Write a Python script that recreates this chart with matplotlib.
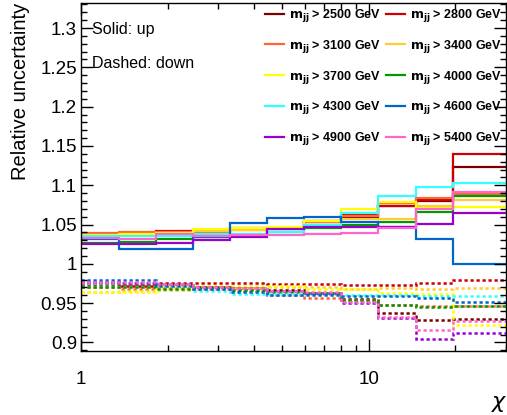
import matplotlib.pyplot as plt
import matplotlib.ticker as ticker
import numpy as np

plt.rcParams['font.family'] = ['Liberation Sans', 'DejaVu Sans']

# chi bin edges
edges = [1, 1.35, 1.82, 2.44, 3.29, 4.43, 5.94, 8.0, 10.8, 14.6, 19.6, 30]

mass_cuts = [2500, 2800, 3100, 3400, 3700, 4000, 4300, 4600, 4900, 5400]
colors = ['#7a0000', '#cc0000', '#ff6633', '#ffcc33', '#ffff00',
          '#009900', '#33ffff', '#0066cc', '#9900cc', '#ff66cc']

up_2500 = [1.037, 1.038, 1.041, 1.042, 1.044, 1.045, 1.053, 1.060, 1.074, 1.080, 1.123]
up_2800 = [1.038, 1.039, 1.042, 1.043, 1.045, 1.046, 1.054, 1.062, 1.073, 1.081, 1.140]
up_3100 = [1.039, 1.040, 1.040, 1.041, 1.043, 1.045, 1.053, 1.061, 1.077, 1.084, 1.089]
up_3400 = [1.034, 1.035, 1.037, 1.042, 1.043, 1.045, 1.054, 1.057, 1.057, 1.073, 1.081]
up_3700 = [1.037, 1.038, 1.039, 1.044, 1.045, 1.047, 1.055, 1.070, 1.079, 1.071, 1.072]
up_4000 = [1.027, 1.028, 1.032, 1.034, 1.037, 1.041, 1.045, 1.049, 1.053, 1.066, 1.086]
up_4300 = [1.035, 1.036, 1.036, 1.038, 1.038, 1.041, 1.049, 1.065, 1.086, 1.098, 1.103]
up_4600 = [1.031, 1.019, 1.019, 1.034, 1.052, 1.058, 1.059, 1.053, 1.047, 1.032, 1.000]
up_4900 = [1.025, 1.025, 1.026, 1.030, 1.034, 1.044, 1.047, 1.047, 1.047, 1.051, 1.065]
up_5400 = [1.033, 1.032, 1.038, 1.036, 1.037, 1.037, 1.038, 1.039, 1.045, 1.070, 1.092]

down_2500 = [0.974, 0.974, 0.973, 0.971, 0.969, 0.967, 0.963, 0.955, 0.937, 0.929, 0.930]
down_2800 = [0.975, 0.972, 0.975, 0.976, 0.975, 0.974, 0.974, 0.973, 0.973, 0.975, 0.980]
down_3100 = [0.970, 0.968, 0.969, 0.968, 0.965, 0.960, 0.957, 0.954, 0.948, 0.946, 0.946]
down_3400 = [0.964, 0.965, 0.967, 0.968, 0.969, 0.970, 0.970, 0.968, 0.969, 0.968, 0.969]
down_3700 = [0.964, 0.964, 0.970, 0.972, 0.972, 0.972, 0.968, 0.968, 0.963, 0.962, 0.922]
down_4000 = [0.971, 0.970, 0.968, 0.969, 0.967, 0.964, 0.963, 0.954, 0.948, 0.945, 0.946]
down_4300 = [0.976, 0.976, 0.973, 0.966, 0.962, 0.962, 0.962, 0.960, 0.960, 0.959, 0.959]
down_4600 = [0.979, 0.979, 0.972, 0.968, 0.964, 0.960, 0.960, 0.959, 0.959, 0.957, 0.951]
down_4900 = [0.977, 0.976, 0.974, 0.970, 0.969, 0.966, 0.963, 0.950, 0.931, 0.905, 0.912]
down_5400 = [0.977, 0.977, 0.974, 0.970, 0.969, 0.966, 0.964, 0.952, 0.932, 0.916, 0.927]

ups = [up_2500, up_2800, up_3100, up_3400, up_3700,
       up_4000, up_4300, up_4600, up_4900, up_5400]
downs = [down_2500, down_2800, down_3100, down_3400, down_3700,
         down_4000, down_4300, down_4600, down_4900, down_5400]

fig = plt.figure(figsize=(5.07, 4.15), dpi=100)
ax = fig.add_axes([0.160, 0.154, 0.838, 0.839])

handles = []
for m, c, u, d in zip(mass_cuts, colors, ups, downs):
    ax.stairs(u, edges, baseline=None, color=c, lw=1.6)
    ax.stairs(d, edges, baseline=None, color=c, lw=1.8, linestyle=(0, (1.3, 1.1)))
    handles.append(plt.Line2D([], [], color=c, lw=1.6))

ax.set_xscale('log')
ax.set_xlim(1, 30)
ax.set_ylim(0.889, 1.332)

ax.xaxis.set_major_locator(ticker.FixedLocator([1, 10]))
ax.xaxis.set_major_formatter(ticker.FixedFormatter(['1', '10']))
ax.xaxis.set_minor_locator(ticker.LogLocator(subs=np.arange(2, 10)))
ax.xaxis.set_minor_formatter(ticker.NullFormatter())
ax.yaxis.set_major_locator(ticker.MultipleLocator(0.05))
ax.yaxis.set_minor_locator(ticker.MultipleLocator(0.01))
ax.yaxis.set_major_formatter(ticker.FuncFormatter(lambda v, p: ('%.2f' % v).rstrip('0').rstrip('.')))

ax.tick_params(which='both', direction='in', top=True, right=True, labelsize=13.5, width=1)
ax.tick_params(which='major', length=8.5)
ax.tick_params(which='minor', length=4.3)
ax.tick_params(axis='x', pad=14)
ax.tick_params(axis='y', pad=3)
for s in ax.spines.values():
    s.set_linewidth(1)

ax.set_ylabel('Relative uncertainty', fontsize=14.5)
ax.yaxis.set_label_coords(-0.12, 1.0)
ax.yaxis.label.set_ha('right')
ax.set_xlabel(r'$\chi$', fontsize=16)
ax.xaxis.set_label_coords(0.985, -0.12)

ax.text(0.025, 0.925, 'Solid: up', transform=ax.transAxes, fontsize=11.5, va='center')
ax.text(0.025, 0.825, 'Dashed: down', transform=ax.transAxes, fontsize=11.5, va='center')

# legend is filled column by column, so reorder to get row-wise pairs
order = [0, 2, 4, 6, 8, 1, 3, 5, 7, 9]
labels = [r'$\mathbf{m_{jj}}$ > %d GeV' % mass_cuts[i] for i in order]
ax.legend([handles[i] for i in order], labels, ncol=2, loc='upper right',
          bbox_to_anchor=(1.017, 1.02), frameon=False,
          prop={'weight': 'bold', 'size': 9}, handlelength=1.5,
          handletextpad=0.4, columnspacing=0.45, labelspacing=1.1)

plt.savefig('out.png', dpi=100)
